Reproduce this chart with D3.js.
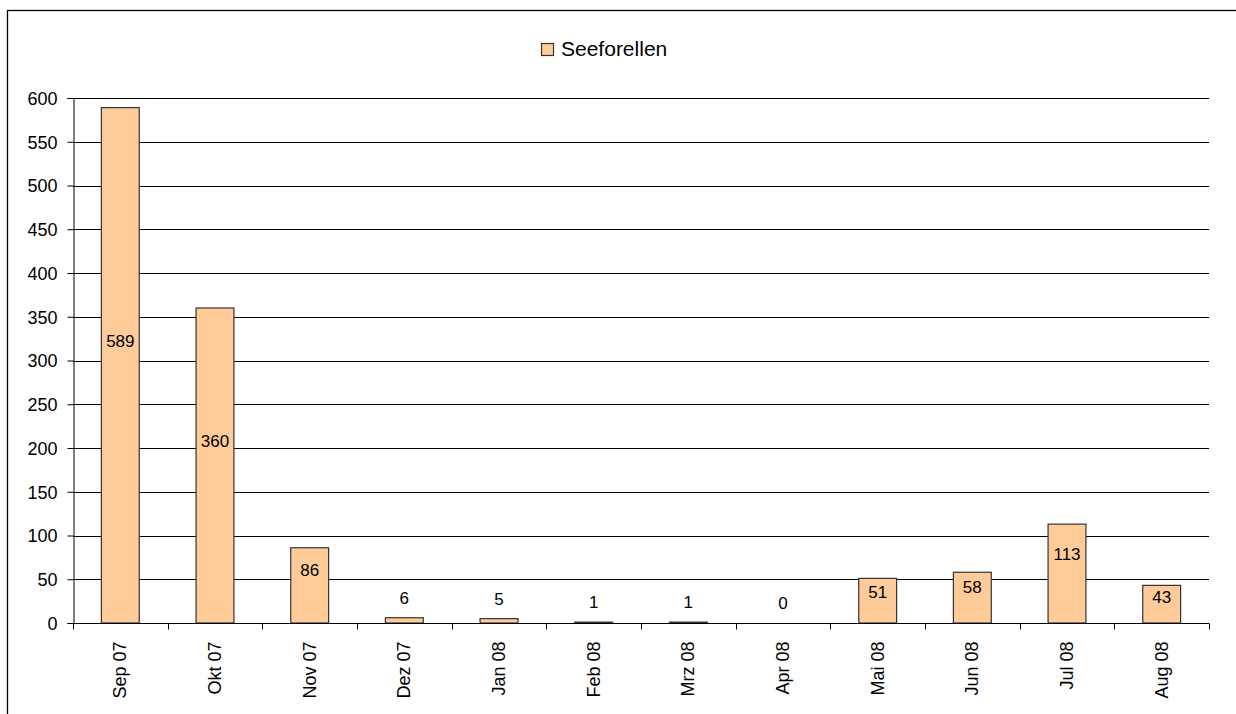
<!DOCTYPE html>
<html><head><meta charset="utf-8">
<script src="https://cdn.jsdelivr.net/npm/d3@7"></script>
<style>body{margin:0;background:#fff;overflow:hidden}svg{display:block}text{font-family:"Liberation Sans",Arial,sans-serif;fill:#000}</style>
</head><body>
<script>
const categories = ["Sep 07","Okt 07","Nov 07","Dez 07","Jan 08","Feb 08","Mrz 08","Apr 08","Mai 08","Jun 08","Jul 08","Aug 08"];
const values = [589,360,86,6,5,1,1,0,51,58,113,43];
const yTicks = [0,50,100,150,200,250,300,350,400,450,500,550,600];
const seriesName = "Seeforellen";

const W = 1236, H = 714;
const m = {left:73, top:98, right:1209, bottom:623};
const svg = d3.select("body").append("svg").attr("width",W).attr("height",H);

svg.append("rect").attr("x",7.5).attr("y",10.5).attr("width",1400).attr("height",900)
  .attr("fill","none").attr("stroke","#000").attr("stroke-width",1.3);

const x = d3.scaleBand().domain(categories).range([m.left,m.right]).paddingInner(0.6).paddingOuter(0.3);
const xb = d3.scaleBand().domain(categories).range([m.left,m.right]);
const y = d3.scaleLinear().domain([0,600]).range([m.bottom,m.top]);

// gridlines
svg.append("g").selectAll("line").data(yTicks.filter(d=>d>0)).join("line")
  .attr("x1",m.left).attr("x2",m.right).attr("y1",d=>Math.round(y(d))+0.5).attr("y2",d=>Math.round(y(d))+0.5)
  .attr("stroke","#000").attr("stroke-width",1);

// bars
svg.append("g").selectAll("rect").data(values).join("rect")
  .attr("x",(d,i)=>x(categories[i])).attr("width",x.bandwidth())
  .attr("y",d=>y(d)).attr("height",d=>y(0)-y(d))
  .attr("fill","#FFCC99").attr("stroke","#333").attr("stroke-width",1.2)
  .attr("display",d=>d>0?null:"none");

// y axis
const yAxis = svg.append("g").attr("transform",`translate(${m.left+0.5},0)`)
  .call(d3.axisLeft(y).tickValues(yTicks).tickSize(6).tickPadding(10).tickFormat(d3.format("d")));
yAxis.select(".domain").attr("stroke","#000");
yAxis.selectAll(".tick line").attr("stroke","#000");
yAxis.selectAll("text").style("font-size","18px").attr("dy","0.35em");

// x axis
const xAxis = svg.append("g").attr("transform",`translate(0,${m.bottom+0.5})`);
xAxis.append("line").attr("x1",m.left).attr("x2",m.right).attr("stroke","#000");
const bounds = categories.map(c=>xb(c)).concat([m.right]);
xAxis.selectAll("line.t").data(bounds).join("line").attr("class","t")
  .attr("x1",d=>Math.round(d)+0.5).attr("x2",d=>Math.round(d)+0.5).attr("y1",0).attr("y2",6).attr("stroke","#000");
xAxis.selectAll("text").data(categories).join("text")
  .attr("transform",d=>`translate(${xb(d)+xb.bandwidth()/2+6},18) rotate(-90)`)
  .attr("text-anchor","end").style("font-size","18px").text(d=>d);

// data labels
svg.append("g").selectAll("text").data(values).join("text")
  .attr("x",(d,i)=>x(categories[i])+x.bandwidth()/2)
  .attr("y",d=>{
    const h = y(0)-y(d);
    if (d < 20) return y(d)-20;
    return (y(d)+y(0))/2 - Math.min(24, h*0.2);
  })
  .attr("dy","0.35em").attr("text-anchor","middle").style("font-size","17px").text(d=>d);

// legend
const lg = svg.append("g");
lg.append("rect").attr("x",541.5).attr("y",43.5).attr("width",12).attr("height",12)
  .attr("fill","#FFCC99").attr("stroke","#333").attr("stroke-width",1.2);
lg.append("text").attr("x",561).attr("y",49).attr("dy","0.35em").style("font-size","21px").text(seriesName);
</script>
</body></html>
